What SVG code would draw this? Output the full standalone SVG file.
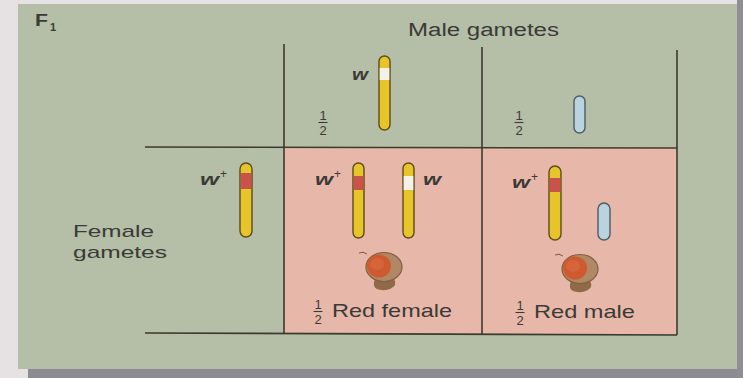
<svg xmlns="http://www.w3.org/2000/svg" width="743" height="378" viewBox="0 0 743 378">
  <defs>
    <style>
      .grid { stroke: #3b3a2e; stroke-width: 1.6; fill: none; }
      .lbl { font-family: "Liberation Sans", Arial, sans-serif; fill: #3a3a36; }
      .gene { font-family: "Liberation Sans", Arial, sans-serif; font-style: italic; font-weight: bold; fill: #3a3a36; }
      .frac { font-family: "Liberation Sans", Arial, sans-serif; font-size: 13px; fill: #3a3a36; text-anchor: middle; }
      .fbar { stroke: #3a3a36; stroke-width: 1.1; }
      .x { fill: #e6c42a; stroke: #5c4a1c; stroke-width: 1.4; }
      .y { fill: #b9d3df; stroke: #4e5a66; stroke-width: 1.4; }
      .red { fill: #c9534a; }
      .white { fill: #f2f1ea; }
    </style>
    <!-- fly head: brown head capsule, orange eye, mouthparts -->
    <g id="fly">
      <path d="M-14,-13 Q-18,-16 -22,-14" stroke="#7a5a3a" stroke-width="1" fill="none"/>
      <path d="M-6,12 Q-10,22 0,23 Q10,24 14,18 Q16,12 8,10 Z" fill="#8e6a48"/>
      <ellipse cx="3" cy="0" rx="18" ry="14.5" fill="#b08866" stroke="#80603f" stroke-width="1.2"/>
      <ellipse cx="-2" cy="-1" rx="12" ry="11.5" fill="#cf5a30"/>
      <ellipse cx="-4" cy="-3" rx="7" ry="6" fill="#db6c42" opacity="0.6"/>
    </g>
  </defs>

  <!-- page and panel -->
  <rect x="0" y="0" width="743" height="378" fill="#e6e2e3"/>
  <rect x="28" y="368" width="715" height="10" fill="#8c8b92"/>
  <rect x="737" y="0" width="6" height="378" fill="#8f8e95"/>
  <rect x="18" y="4" width="719" height="365" fill="#b5bea6"/>
  <rect x="284" y="147" width="393" height="187" fill="#e7b8a9"/>

  <text class="lbl" x="35" y="26" font-size="16" font-weight="bold" textLength="13" lengthAdjust="spacingAndGlyphs">F</text>
  <text class="lbl" x="50" y="31" font-size="11" font-weight="bold">1</text>

  <!-- grid lines -->
  <g id="connectors">
    <line class="grid" x1="284" y1="44" x2="284" y2="334"/>
    <line class="grid" x1="482" y1="47" x2="482" y2="334"/>
    <line class="grid" x1="677" y1="50" x2="677" y2="335"/>
    <line class="grid" x1="145" y1="147" x2="677" y2="148"/>
    <line class="grid" x1="145" y1="333" x2="677" y2="335"/>
  </g>

  <g id="male-header">
    <text class="lbl" x="408" y="36" font-size="18" textLength="151" lengthAdjust="spacingAndGlyphs">Male gametes</text>
  </g>

  <g id="female-header">
    <text class="lbl" x="73" y="237" font-size="17" textLength="81" lengthAdjust="spacingAndGlyphs">Female</text>
    <text class="lbl" x="73" y="258" font-size="17" textLength="94" lengthAdjust="spacingAndGlyphs">gametes</text>
  </g>

  <!-- male gamete carrying w -->
  <g id="male-gamete-x">
    <text class="frac" x="323" y="120">1</text>
    <line class="fbar" x1="318.5" y1="122.5" x2="327.5" y2="122.5"/>
    <text class="frac" x="323" y="135">2</text>
    <text class="gene" x="352" y="80" font-size="16" textLength="16" lengthAdjust="spacingAndGlyphs">w</text>
    <rect class="x" x="379" y="56" width="11" height="74" rx="5.5"/>
    <rect class="white" x="379.7" y="68" width="9.6" height="12"/>
  </g>

  <!-- male gamete carrying Y -->
  <g id="male-gamete-y">
    <text class="frac" x="519" y="120">1</text>
    <line class="fbar" x1="514.5" y1="122.5" x2="523.5" y2="122.5"/>
    <text class="frac" x="519" y="135">2</text>
    <rect class="y" x="574" y="96" width="11" height="37" rx="5.5"/>
  </g>

  <!-- female gamete carrying w+ -->
  <g id="female-gamete">
    <text class="gene" x="200" y="185" font-size="16" textLength="19" lengthAdjust="spacingAndGlyphs">w</text>
    <text class="lbl" x="220" y="178" font-size="12">+</text>
    <rect class="x" x="240" y="163" width="12" height="74" rx="6"/>
    <rect class="red" x="240.7" y="173" width="10.6" height="16"/>
  </g>

  <!-- offspring: red-eyed female -->
  <g id="red-female">
    <text class="gene" x="315" y="185" font-size="16" textLength="18" lengthAdjust="spacingAndGlyphs">w</text>
    <text class="lbl" x="334" y="178" font-size="12">+</text>
    <rect class="x" x="353" y="163" width="11" height="75" rx="5.5"/>
    <rect class="red" x="353.7" y="176" width="9.6" height="14"/>
    <rect class="x" x="403" y="163" width="11" height="75" rx="5.5"/>
    <rect class="white" x="403.7" y="176" width="9.6" height="14"/>
    <text class="gene" x="423" y="185" font-size="16" textLength="18" lengthAdjust="spacingAndGlyphs">w</text>
    <use href="#fly" x="381" y="267"/>
    <text class="frac" x="318" y="309">1</text>
    <line class="fbar" x1="313.5" y1="311.5" x2="322.5" y2="311.5"/>
    <text class="frac" x="318" y="324">2</text>
    <text class="lbl" x="332" y="317" font-size="19" textLength="120" lengthAdjust="spacingAndGlyphs">Red female</text>
  </g>

  <!-- offspring: red-eyed male -->
  <g id="red-male">
    <text class="gene" x="512" y="188" font-size="16" textLength="18" lengthAdjust="spacingAndGlyphs">w</text>
    <text class="lbl" x="531" y="181" font-size="12">+</text>
    <rect class="x" x="549" y="166" width="12" height="74" rx="6"/>
    <rect class="red" x="549.7" y="178" width="10.6" height="14"/>
    <rect class="y" x="598" y="203" width="12" height="37" rx="6"/>
    <use href="#fly" x="577" y="269"/>
    <text class="frac" x="520" y="310">1</text>
    <line class="fbar" x1="515.5" y1="312.5" x2="524.5" y2="312.5"/>
    <text class="frac" x="520" y="325">2</text>
    <text class="lbl" x="534" y="318" font-size="19" textLength="101" lengthAdjust="spacingAndGlyphs">Red male</text>
  </g>
</svg>
